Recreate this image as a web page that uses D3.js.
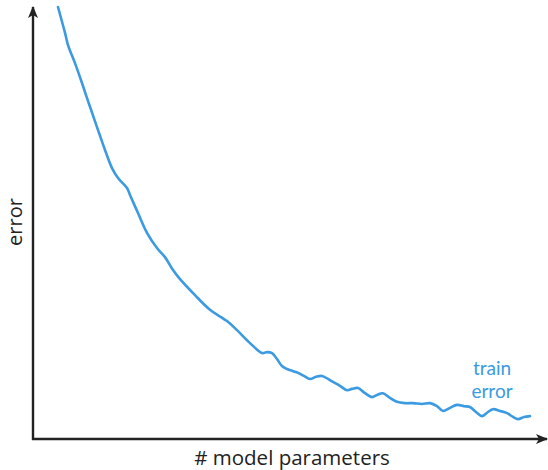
<!DOCTYPE html>
<html>
<head>
<meta charset="utf-8">
<script src="https://cdn.jsdelivr.net/npm/d3@7"></script>
<style>
  html,body{margin:0;padding:0;background:#fff;}
  svg{display:block;font-family:"Open Sans","Noto Sans",sans-serif;}
</style>
</head>
<body>
<div id="chart"></div>
<script>
// model size (0-100) and training error (0-100)
const params=[4.86,6.23,6.81,8.17,9.53,10.51,11.09,12.45,14.01,15.37,16.54,18.29,18.87,20.43,22.18,24.12,25.68,27.24,28.40,31.52,34.44,37.74,39.69,42.22,44.55,45.53,46.50,47.47,48.44,49.42,50.58,51.56,52.72,53.89,55.06,56.23,57.39,58.37,59.73,61.09,62.06,63.23,64.59,65.95,66.93,68.09,69.46,70.82,72.37,73.93,75.68,77.24,78.60,79.77,81.13,82.49,83.85,85.02,86.19,87.35,88.52,89.49,90.86,92.22,93.39,94.36,95.53,96.69];
const trainError=[100,94.0,91.2,87.0,82.4,78.9,76.9,72.2,66.9,62.7,60.4,58.1,56.5,52.3,47.7,44.2,42.1,39.1,37.3,33.3,29.9,27.3,25.2,22.2,19.9,20.1,19.9,18.5,16.9,16.2,15.7,15.3,14.6,13.9,14.4,14.6,13.9,13.2,12.3,11.3,11.6,11.8,10.6,9.7,10.2,10.6,9.5,8.6,8.3,8.3,8.1,8.3,7.6,6.5,7.2,7.9,7.6,7.4,6.25,5.3,6.25,6.9,6.5,6.0,5.1,4.6,5.1,5.3];
const seriesLabel=["train","error"];
const xTitle="# model parameters", yTitle="error";

const W=548,H=470;
const m={left:33,right:1,top:7,bottom:31};
const svg=d3.select("#chart").append("svg").attr("width",W).attr("height",H);
const x=d3.scaleLinear().domain([0,100]).range([m.left,W-m.right]);
const y=d3.scaleLinear().domain([0,100]).range([H-m.bottom,m.top]);

const defs=svg.append("defs");
defs.append("marker").attr("id","arr").attr("viewBox","0 0 12 10")
  .attr("refX",11).attr("refY",5).attr("markerWidth",12).attr("markerHeight",10)
  .attr("markerUnits","userSpaceOnUse").attr("orient","auto")
  .append("path").attr("d","M0,0 L12,5 L0,10 L3,5 Z").attr("fill","#222");

const data=params.map((p,i)=>({p,e:trainError[i]}));
svg.append("path").datum(data)
  .attr("d",d3.line().x(d=>x(d.p)).y(d=>y(d.e)).curve(d3.curveCatmullRom))
  .attr("fill","none").attr("stroke","#3b9ae1").attr("stroke-width",2.6)
  .attr("stroke-linejoin","round").attr("stroke-linecap","round");

// axes drawn as arrows
svg.append("line").attr("x1",x(0)).attr("x2",x(0)).attr("y1",y(0)+1).attr("y2",y(100))
  .attr("stroke","#222").attr("stroke-width",2.4).attr("marker-end","url(#arr)");
svg.append("line").attr("x1",x(0)-1).attr("x2",x(100)).attr("y1",y(0)).attr("y2",y(0))
  .attr("stroke","#222").attr("stroke-width",2.4).attr("marker-end","url(#arr)");

svg.append("text").attr("x",292).attr("y",465).attr("text-anchor","middle")
  .attr("font-size",20.5).attr("fill","#222").text(xTitle);
svg.append("text").attr("transform","translate(22,222) rotate(-90)").attr("text-anchor","middle")
  .attr("font-size",20).attr("fill","#222").text(yTitle);

svg.selectAll(".series-label").data(seriesLabel).join("text").attr("class","series-label")
  .attr("x",492).attr("y",(d,i)=>375+i*23).attr("text-anchor","middle")
  .attr("font-family","Lato").attr("font-size",19).attr("fill","#3b9ae1").text(d=>d);
</script>
</body>
</html>
